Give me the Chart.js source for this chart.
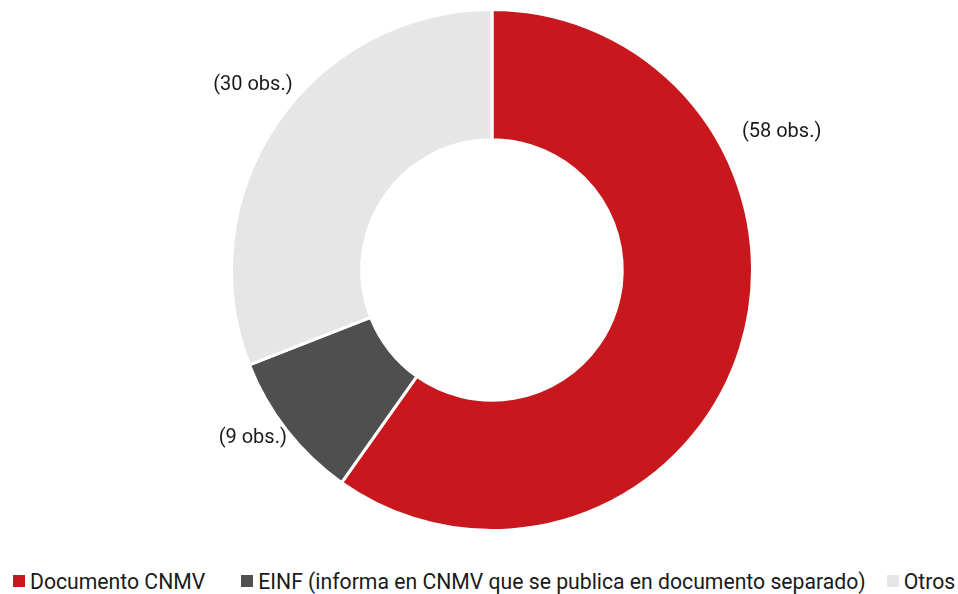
<!DOCTYPE html>
<html>
<head>
<meta charset="utf-8">
<script src="https://cdn.jsdelivr.net/npm/chart.js@4/dist/chart.umd.min.js"></script>
<style>
  html, body { margin: 0; padding: 0; background: #fff; overflow: hidden; }
  #wrap { position: relative; width: 958px; height: 545px; }
  #legend { display: flex; align-items: center; height: 72px; padding-left: 13px; font-family: Roboto, sans-serif; font-size: 21.2px; color: #1a1a1a; }
  .legend-item { display: flex; align-items: center; white-space: nowrap; }
  .legend-item:nth-child(1) { margin-right: 36px; }
  .legend-item:nth-child(2) { margin-right: 21px; }
  .legend-dot { display: inline-block; width: 12px; height: 12px; margin-right: 5px; }
</style>
</head>
<body>
<div id="wrap"><canvas id="pieChart"></canvas></div>
<div id="legend"></div>
<script>
const categorias = ['Documento CNMV', 'EINF (informa en CNMV que se publica en documento separado)', 'Otros'];
const valores = [58, 9, 30];
const rotulos = ['(58 obs.)', '(9 obs.)', '(30 obs.)'];
const cores = ['#C9181D', '#4F4F4F', '#E6E6E6'];
// posição do rótulo dentro da fatia (0 = início, 1 = fim) e afastamento extra
const posRotulo = [0.3, 0.59, 0.53];
const distRotulo = [20, -2, 4];

// rótulos fora das fatias
const outsideLabels = {
  id: 'outsideLabels',
  afterDatasetsDraw(chart) {
    const ctx = chart.ctx;
    const meta = chart.getDatasetMeta(0);
    ctx.save();
    ctx.font = "20px Roboto, sans-serif";
    ctx.fillStyle = '#1a1a1a';
    ctx.textAlign = 'center';
    ctx.textBaseline = 'middle';
    meta.data.forEach((arc, i) => {
      const a = arc.startAngle + (arc.endAngle - arc.startAngle) * posRotulo[i];
      const w = ctx.measureText(rotulos[i]).width;
      const r = arc.outerRadius + distRotulo[i] + Math.abs(Math.cos(a)) * w / 2 + Math.abs(Math.sin(a)) * 10;
      ctx.fillText(rotulos[i], arc.x + Math.cos(a) * r, arc.y + Math.sin(a) * r);
    });
    ctx.restore();
  }
};

new Chart(document.getElementById('pieChart').getContext('2d'), {
  type: 'doughnut',
  data: {
    labels: categorias,
    datasets: [{
      data: valores,
      backgroundColor: cores,
      borderColor: '#fff',
      borderWidth: 3,
      borderAlign: 'center',
      hoverOffset: 0,
    }]
  },
  options: {
    cutout: '50%',
    responsive: true,
    maintainAspectRatio: false,
    animation: false,
    layout: { padding: { left: 26, top: 8, bottom: 13, right: 0 } },
    plugins: {
      legend: { display: false },
      tooltip: { enabled: false }
    }
  },
  plugins: [outsideLabels]
});

// Legenda manual
document.getElementById('legend').innerHTML = categorias.map((c, i) => `
  <div class="legend-item">
    <span class="legend-dot" style="background:${cores[i]}"></span>
    <span>${c}</span>
  </div>
`).join('');
</script>
</body>
</html>
